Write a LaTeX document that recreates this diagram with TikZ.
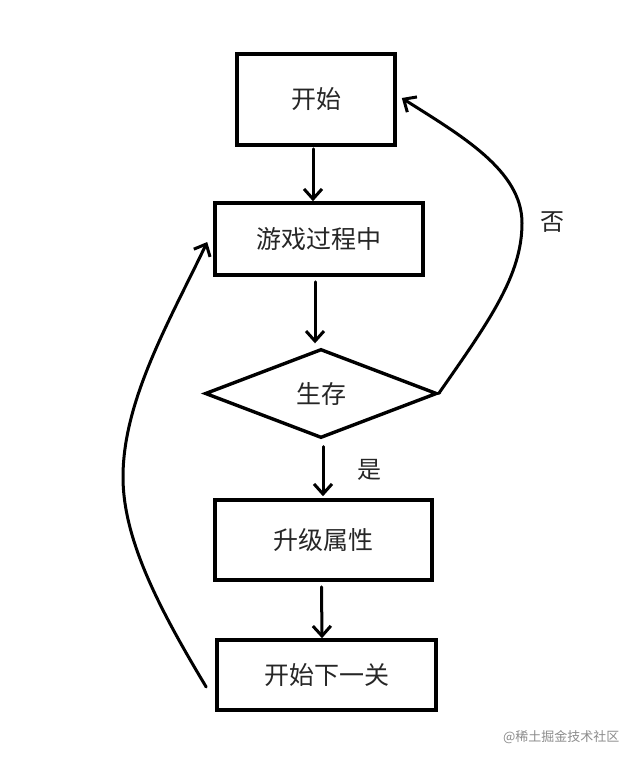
\documentclass[tikz,border=0pt]{standalone}
\usepackage{fontspec}
\newfontfamily\cjk{Noto Sans CJK SC}
\usetikzlibrary{shapes.geometric,arrows.meta,calc}
\begin{document}
\begin{tikzpicture}[x=1pt,y=-1pt,
  box/.style={draw=black,line width=3.6pt,rectangle,inner sep=0pt,
    font=\cjk\fontsize{25}{30}\selectfont,text=black!85},
  dec/.style={draw=black,line width=3.4pt,shape=diamond,inner sep=0pt,
    font=\cjk\fontsize{25}{30}\selectfont,text=black!85},
  lbl/.style={font=\cjk\fontsize{24}{28}\selectfont,text=black!85},
  arr/.style={line width=3pt,line cap=round,
    -{Straight Barb[length=10pt,width=18pt,line width=3pt]}}]
\fill[white] (0,0) rectangle (643,765);
\useasboundingbox (0,0) rectangle (643,765);
\node[box,minimum width=158pt,minimum height=91pt] (start) at (316,99.5) {开始};
\node[box,minimum width=208pt,minimum height=72pt] (game) at (319,239) {游戏过程中};
\node[dec,minimum width=232pt,minimum height=89pt] (alive) at (321,393.5) {生存};
\node[box,minimum width=217pt,minimum height=80pt] (up) at (323.5,540) {升级属性};
\node[box,minimum width=219pt,minimum height=70pt] (next) at (326.5,675) {开始下一关};
\node[lbl] (yes) at (369,470) {是};
\node[lbl] (no) at (552,222) {否};
\node[font=\cjk\fontsize{13}{15}\selectfont,text=black!45,anchor=east] (wm) at (623,737) {@稀土掘金技术社区};
\draw[arr] ($(start.south)+(-3,2)$) -- ($(game.north)+(-6,0)$);
\draw[arr] ($(game.south)+(-4,5)$) -- ($(alive.north)+(-6,-4)$);
\draw[arr] ($(alive.south)+(2,7)$) -- ($(up.north)+(-0.5,-2)$);
\draw[arr] ($(up.south)+(-2,5)$) -- ($(next.north)+(-4.5,0)$);
\coordinate (rmid) at (522,223);
\coordinate (lmid) at (123,477);
\draw[arr] (alive.east) .. controls (490,320) and (522,275) .. (rmid)
  .. controls (522,170) and (460,135) .. ($(start.east)+(5,-1.5)$);
\draw[arr] ($(next.west)+(-9,12)$) .. controls (160,610) and (123,540) .. (lmid)
  .. controls (123,400) and (170,320) .. ($(game.west)+(-6,3)$);
\end{tikzpicture}
\end{document}
